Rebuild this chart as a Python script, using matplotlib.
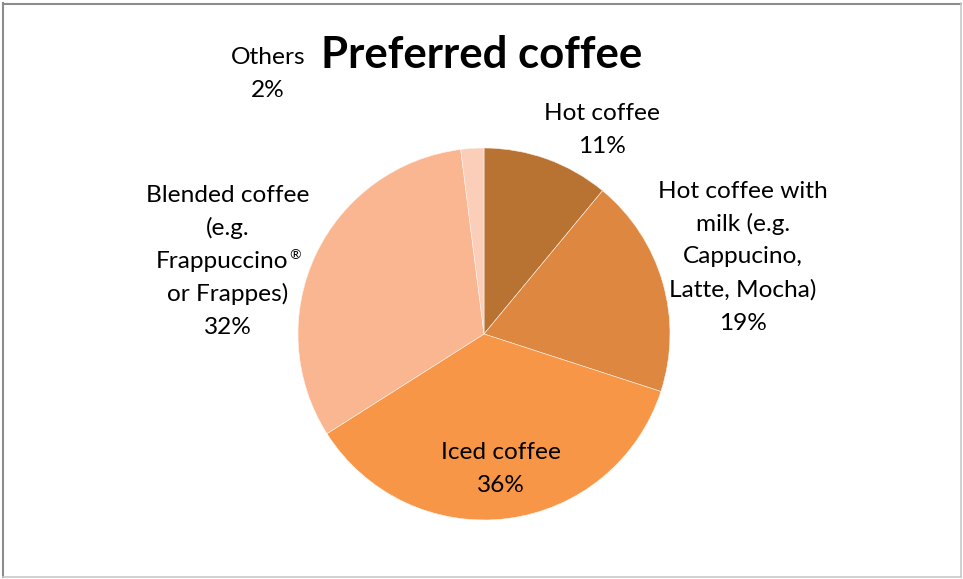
import matplotlib
matplotlib.use("Agg")
import matplotlib.pyplot as plt
from matplotlib.lines import Line2D

# Survey shares of preferred coffee type (percent)
categories = [
    "Hot coffee",
    "Hot coffee with\nmilk (e.g.\nCappucino,\nLatte, Mocha)",
    "Iced coffee",
    "Blended coffee\n(e.g.\nFrappuccino\u00ae\nor Frappes)",
    "Others",
]
shares = [11, 19, 36, 32, 2]
colors = ["#B87333", "#DD8740", "#F79646", "#F9B690", "#FBCEB9"]
title = "Preferred coffee"

W, H = 963, 579
fig = plt.figure(figsize=(W / 100, H / 100), dpi=100)
plt.rcParams["font.family"] = ["Lato", "DejaVu Sans"]
FS = 17.6        # label font size (pt)
FS_SUP = 10      # superscript mark size (pt)
LINE_PX = 33     # label line pitch in pixels

# Pie placed by pixel geometry: centre (484, 334), radius 186
cx, cy, r = 484, 334, 186
ax = fig.add_axes([(cx - r) / W, (H - cy - r) / H, 2 * r / W, 2 * r / H])
ax.pie(shares, colors=colors, startangle=90, counterclock=False, radius=1,
       wedgeprops=dict(edgecolor="#FFF4EC", linewidth=0.4))
ax.set_xlim(-1, 1)
ax.set_ylim(-1, 1)
ax.set_aspect("equal")
ax.axis("off")

renderer = fig.canvas.get_renderer()


def text_width(s, size):
    t = fig.text(0, 0, s, fontsize=size)
    w = t.get_window_extent(renderer).width
    t.remove()
    return w


def put(px, py, s, **kw):
    return fig.text(px / W, 1 - py / H, s, va="center", color="black", **kw)


# Label block centres in pixels
label_pos = [(602, 130), (743, 257), (501, 469), (228, 261), (268, 74)]
for name, val, (px, py) in zip(categories, shares, label_pos):
    lines = f"{name}\n{val}%".split("\n")
    n = len(lines)
    for i, line in enumerate(lines):
        ly = py + (i - (n - 1) / 2) * LINE_PX
        if "\u00ae" in line:
            base = line.replace("\u00ae", "")
            bw = text_width(base, FS)
            rw = text_width("\u00ae", FS_SUP)
            left = px - (bw + rw) / 2
            put(left, ly, base, ha="left", fontsize=FS)
            put(left + bw + 0.5, ly - 6, "\u00ae", ha="left", fontsize=FS_SUP)
        else:
            put(px, ly, line, ha="center", fontsize=FS)

put(482, 55, title, ha="center", fontsize=31.5, fontweight="bold")

# Chart-area frame
def fline(x0, y0, x1, y1, c, lw):
    fig.add_artist(Line2D([x0 / W, x1 / W], [1 - y0 / H, 1 - y1 / H],
                          transform=fig.transFigure, color=c, linewidth=lw))

fline(3, 3.5, 961, 3.5, "#8C8C8C", 1.5)
fline(3, 3, 3, 577, "#8C8C8C", 1.5)
fline(960.5, 3, 960.5, 577, "#C8C8C8", 1.2)
fline(3, 577, 961, 577, "#C8C8C8", 1.2)

fig.savefig("out.png", dpi=100, facecolor="white")
